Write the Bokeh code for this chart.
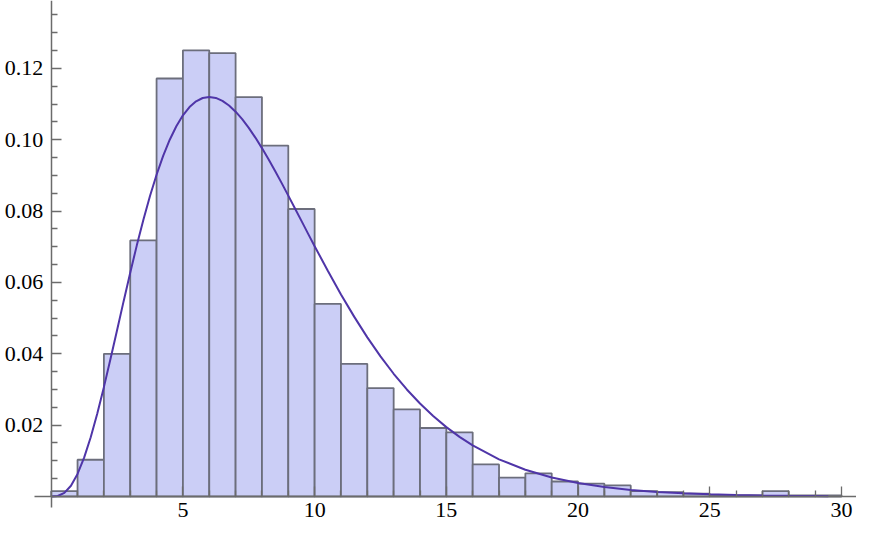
from bokeh.plotting import figure
from bokeh.models import Range1d, LinearAxis, FixedTicker
from bokeh.embed import file_html
from bokeh.resources import INLINE

# ---- data ----
bin_left = list(range(0, 30))
bin_right = list(range(1, 31))
density = [0.0015, 0.0103, 0.0400, 0.0718, 0.1172, 0.1251, 0.1243, 0.1120, 0.0984, 0.0806,
           0.0540, 0.0372, 0.0304, 0.0244, 0.0192, 0.0180, 0.0090, 0.0053, 0.0065, 0.0042,
           0.0036, 0.0031, 0.0015, 0.0012, 0.0008, 0.0003, 0.0003, 0.0015, 0.0003, 0.0003]

curve_x = [0, 0.25, 0.5, 0.75, 1, 1.25, 1.5, 1.75, 2, 2.25, 2.5, 2.75, 3, 3.25, 3.5, 3.75,
           4, 4.25, 4.5, 4.75, 5, 5.25, 5.5, 5.75, 6, 6.25, 6.5, 6.75, 7, 7.25, 7.5, 7.75,
           8, 8.25, 8.5, 8.75, 9, 9.25, 9.5, 9.75, 10, 10.5, 11, 11.5, 12, 12.5, 13, 13.5,
           14, 14.5, 15, 15.5, 16, 17, 18, 19, 20, 21, 22, 23, 24, 25, 26, 27, 28, 29, 29.5]
curve_y = [0, 0.00014, 0.00101, 0.00302, 0.00632, 0.01089, 0.01661, 0.02327, 0.03066, 0.03853,
           0.04663, 0.05477, 0.06276, 0.07041, 0.07762, 0.08426, 0.09022, 0.09548, 0.10004,
           0.10382, 0.10688, 0.10919, 0.11080, 0.11173, 0.11202, 0.11174, 0.11092, 0.10963,
           0.10789, 0.10579, 0.10335, 0.10063, 0.09768, 0.09453, 0.09125, 0.08786, 0.08436,
           0.08082, 0.07727, 0.07371, 0.07018, 0.06328, 0.05666, 0.05043, 0.04462, 0.03927,
           0.03441, 0.03001, 0.02607, 0.02255, 0.01945, 0.01671, 0.01431,
           0.01041, 0.00750, 0.00535, 0.00378, 0.00266, 0.00185, 0.00128, 0.00088, 0.00060,
           0.00041, 0.00028, 0.00019, 0.00013, 0.00010]

x_ticks = [5, 10, 15, 20, 25, 30]
x_tick_labels = ["5", "10", "15", "20", "25", "30"]
x_minor = [v for v in range(1, 31) if v % 5 != 0]
y_ticks = [0.02, 0.04, 0.06, 0.08, 0.10, 0.12]
y_tick_labels = ["0.02", "0.04", "0.06", "0.08", "0.10", "0.12"]
y_minor = [i * 0.005 for i in range(1, 28) if i % 4 != 0]

FONT = "Liberation Serif"
AX = "#6b6b6b"

W, H = 856, 523
PX_X = 26.343      # pixels per x unit
PX_Y = 3566.7      # pixels per y unit
X0_PX = 50.7       # x=0 position from left
Y0_PX = 496.0      # y=0 position from top

x_start = -X0_PX / PX_X
x_end = (W - X0_PX) / PX_X
y_start = -(H - Y0_PX) / PX_Y
y_end = Y0_PX / PX_Y

p = figure(width=W, height=H, output_backend="svg", toolbar_location=None,
           x_range=Range1d(x_start, x_end), y_range=Range1d(y_start, y_end),
           x_axis_location=None, y_axis_location=None,
           min_border_left=0, min_border_right=0, min_border_top=0, min_border_bottom=0)
p.xgrid.visible = False
p.ygrid.visible = False
p.outline_line_color = None
p.background_fill_color = "white"
p.border_fill_color = "white"

p.quad(left=bin_left, right=bin_right, top=density, bottom=0,
       fill_color="#cbcef6", line_color="#6c6e7c", line_width=1.8)
p.line(curve_x, curve_y, line_color="#4f35a8", line_width=2)

xa = LinearAxis(fixed_location=0, bounds=(-16.7 / PX_X, x_end),
                ticker=FixedTicker(ticks=x_ticks, minor_ticks=x_minor),
                major_label_overrides={t: l for t, l in zip(x_ticks, x_tick_labels)})
ya = LinearAxis(fixed_location=0, bounds=(-11.0 / PX_Y, y_end),
                ticker=FixedTicker(ticks=y_ticks, minor_ticks=y_minor),
                major_label_overrides={t: l for t, l in zip(y_ticks, y_tick_labels)})
for ax in (xa, ya):
    ax.axis_line_color = AX
    ax.axis_line_width = 1.5
    ax.major_tick_line_color = AX
    ax.minor_tick_line_color = AX
    ax.major_tick_line_width = 1.3
    ax.minor_tick_line_width = 1.3
    ax.major_tick_in = 10
    ax.major_tick_out = 0
    ax.minor_tick_in = 6
    ax.minor_tick_out = 0
    ax.major_label_text_font = FONT
    ax.major_label_text_font_size = "22px"
    ax.major_label_text_color = "black"
xa.major_label_standoff = 6
ya.major_label_standoff = 8
p.add_layout(xa, "below")
p.add_layout(ya, "left")

open("out.html", "w").write(file_html(p, INLINE))
